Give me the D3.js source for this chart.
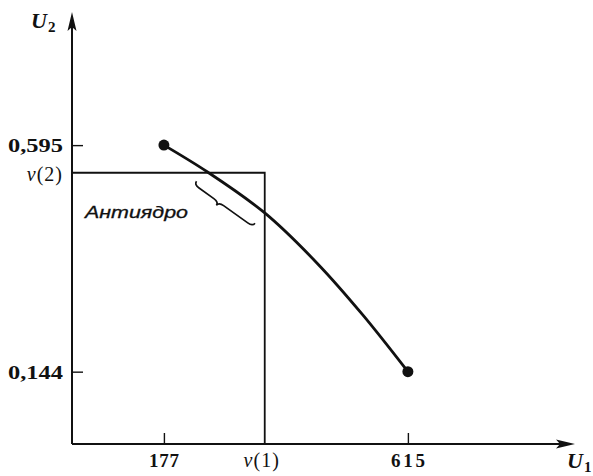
<!DOCTYPE html>
<html><head><meta charset="utf-8">
<script src="https://cdn.jsdelivr.net/npm/d3@7"></script>
<style>html,body{margin:0;padding:0;background:#fff;}svg{display:block;}</style>
</head><body>
<svg id="c" width="593" height="476"></svg>
<script>
// ---- data ----
const xTickValues = [177, 615];
const xTickLabels = ["177", "615"];
const yTickValues = [0.595, 0.144];
const yTickLabels = ["0,595", "0,144"];
const v1 = 358;          // v(1)
const v2 = 0.540;        // v(2)
const curveU1 = [177, 256, 358, 452, 534, 615];
const curveU2 = [0.595, 0.541, 0.46, 0.36, 0.257, 0.144];
const endU1 = [177, 615];
const endU2 = [0.595, 0.144];
const regionLabel = "Антиядро";

const svg = d3.select("#c");
const x = d3.scaleLinear().domain([12, 915]).range([72, 575]);
const y = d3.scaleLinear().domain([0, 0.86]).range([444, 12]);
const ink = "#111";
const serif = "'Liberation Serif','DejaVu Serif',serif";

// axes
svg.append("line").attr("x1", x(12)).attr("y1", y(0)).attr("x2", x(900)).attr("y2", y(0))
  .attr("stroke", ink).attr("stroke-width", 2);
svg.append("line").attr("x1", x(12)).attr("y1", y(0)).attr("x2", x(12)).attr("y2", y(0.84))
  .attr("stroke", ink).attr("stroke-width", 2);
// arrowheads
const xt = x(915), yt = y(0);
svg.append("path").attr("d", `M${xt},${yt} L${xt-19},${yt-4.5} L${xt-15},${yt} L${xt-19},${yt+4.5} Z`).attr("fill", ink);
const ax = x(12), ay = y(0.86);
svg.append("path").attr("d", `M${ax},${ay} L${ax-4.5},${ay+19} L${ax},${ay+15} L${ax+4.5},${ay+19} Z`).attr("fill", ink);

// ticks
const xg = svg.append("g").attr("transform", `translate(0,${y(0)})`)
  .call(d3.axisTop(x).tickValues(xTickValues).tickSize(11).tickFormat(""));
xg.select(".domain").remove();
xg.selectAll("line").attr("stroke", ink).attr("stroke-width", 1.4);
const yg = svg.append("g").attr("transform", `translate(${x(12)},0)`)
  .call(d3.axisRight(y).tickValues(yTickValues).tickSize(11).tickFormat(""));
yg.select(".domain").remove();
yg.selectAll("line").attr("stroke", ink).attr("stroke-width", 1.4);

// tick labels
const xLabW = [30, 34];
svg.selectAll("text.xl").data(xTickValues).enter().append("text")
  .attr("x", (d, i) => x(d) - xLabW[i] / 2).attr("y", 467)
  .attr("font-family", serif).attr("font-size", 19).attr("font-weight", "bold")
  .attr("textLength", (d, i) => xLabW[i]).attr("lengthAdjust", "spacing").attr("fill", ink)
  .text((d, i) => xTickLabels[i]);
svg.selectAll("text.yl").data(yTickValues).enter().append("text")
  .attr("x", 8).attr("y", d => y(d) + 7)
  .attr("font-family", serif).attr("font-size", 19).attr("font-weight", "bold")
  .attr("textLength", 55).attr("lengthAdjust", "spacingAndGlyphs").attr("fill", ink)
  .text((d, i) => yTickLabels[i]);

// v(1), v(2) labels
const vlab = (tx, ty, anchor, sub) => {
  const t = svg.append("text").attr("x", tx).attr("y", ty).attr("text-anchor", anchor)
    .attr("font-family", serif).attr("font-size", 20).attr("fill", ink).attr("letter-spacing", 1);
  t.append("tspan").attr("font-style", "italic").text("v");
  t.append("tspan").text("(" + sub + ")");
};
vlab(x(v1) - 3, 467, "middle", "1");
vlab(63, y(v2) + 8, "end", "2");

// axis titles
const utitle = (tx, ty, sub) => {
  const t = svg.append("text").attr("x", tx).attr("y", ty)
    .attr("font-family", serif).attr("font-size", 22).attr("font-style", "italic")
    .attr("font-weight", "bold").attr("fill", ink);
  t.append("tspan").text("U");
  t.append("tspan").attr("font-size", 15).attr("dy", 4).attr("dx", 1).attr("font-style", "normal").text(sub);
};
utitle(31, 28, "2");
utitle(567, 468, "1");

// rectangle (v(1), v(2))
svg.append("path")
  .attr("d", `M${x(12)},${y(v2)} L${x(v1)},${y(v2)} L${x(v1)},${y(0)}`)
  .attr("fill", "none").attr("stroke", ink).attr("stroke-width", 1.8);

// curve
const pts = curveU1.map((d, i) => [d, curveU2[i]]);
svg.append("path").datum(pts)
  .attr("d", d3.line().x(d => x(d[0])).y(d => y(d[1])).curve(d3.curveCatmullRom))
  .attr("fill", "none").attr("stroke", ink).attr("stroke-width", 2.8);
svg.selectAll("circle.e").data(endU1).enter().append("circle")
  .attr("cx", d => x(d)).attr("cy", (d, i) => y(endU2[i])).attr("r", 5.5).attr("fill", ink);

// brace between the curve's crossings of v(2) and v(1)
const P0 = [x(curveU1[1]), y(curveU2[1])], P1 = [x(curveU1[2]), y(curveU2[2])];
const L = Math.hypot(P1[0] - P0[0], P1[1] - P0[1]);
const dv = [(P1[0] - P0[0]) / L, (P1[1] - P0[1]) / L];
const nv = [-dv[1], dv[0]];
const off = 14, q = 4, h = 6, s = -4;
const pt = (u, v) => { u += s; return [P0[0] + dv[0]*u + nv[0]*(off+v), P0[1] + dv[1]*u + nv[1]*(off+v)].join(","); };
const Lb = L + 2;
const m = Lb * 0.42;
svg.append("path")
  .attr("d", `M${pt(0,0)} Q${pt(0,q)} ${pt(h,q)} L${pt(m-h,q)} Q${pt(m,q)} ${pt(m,2*q)} Q${pt(m,q)} ${pt(m+h,q)} L${pt(Lb-h,q)} Q${pt(Lb,q)} ${pt(Lb,0)}`)
  .attr("fill", "none").attr("stroke", ink).attr("stroke-width", 1.7);

// region label
svg.append("text").attr("x", 85).attr("y", 218)
  .attr("font-family", "'Liberation Sans',Arial,sans-serif").attr("font-style", "italic")
  .attr("font-size", 17).attr("fill", ink).attr("stroke", ink).attr("stroke-width", 0.3)
  .attr("textLength", 103).attr("lengthAdjust", "spacingAndGlyphs")
  .text(regionLabel);
</script>
</body></html>
